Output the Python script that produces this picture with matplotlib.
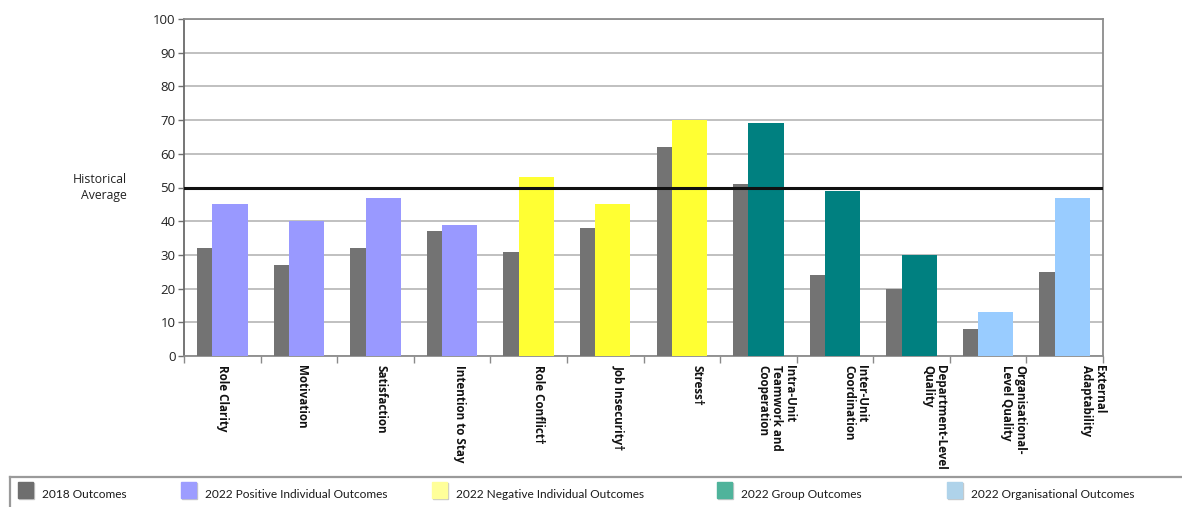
import matplotlib
matplotlib.use("Agg")
import matplotlib.pyplot as plt
from matplotlib.patches import Rectangle
from matplotlib.lines import Line2D
from matplotlib.transforms import blended_transform_factory

# Outcome categories (x axis)
categories = [
    "Role Clarity", "Motivation", "Satisfaction", "Intention to Stay",
    "Role Conflict\u2020", "Job Insecurity\u2020", "Stress\u2020",
    "Intra-Unit\nTeamwork and\nCooperation", "Inter-Unit\nCoordination",
    "Department-Level\nQuality", "Organisational-\nLevel Quality",
    "External\nAdaptability",
]
# Scores
outcomes_2018 = [32, 27, 32, 37, 31, 38, 62, 51, 24, 20, 8, 25]
outcomes_2022 = [45, 40, 47, 39, 53, 45, 70, 69, 49, 30, 13, 47]
# Outcome group of each 2022 bar
groups_2022 = ["pos", "pos", "pos", "pos", "neg", "neg", "neg",
               "grp", "grp", "grp", "org", "org"]
historical_average = 50
y_ticks = list(range(0, 101, 10))

legend_labels = ["2018 Outcomes", "2022 Positive Individual Outcomes",
                 "2022 Negative Individual Outcomes", "2022 Group Outcomes",
                 "2022 Organisational Outcomes"]

bar_colors = {"pos": "#9999ff", "neg": "#ffff33", "grp": "#008080", "org": "#99ccff"}
gray = "#737373"
legend_colors = ["#6e6e6e", "#9d9dff", "#ffff99", "#4fb39b", "#afd3ea"]

plt.rcParams["font.family"] = ["Open Sans", "DejaVu Sans"]

W, H = 1182, 507
fig = plt.figure(figsize=(W / 100, H / 100), dpi=100)
ax = fig.add_axes([184 / W, 1 - 356 / H, (1103 - 184) / W, (356 - 19) / H])

x = list(range(len(categories)))
ax.bar([i - 0.33 for i in x], outcomes_2018, width=0.2, align="edge",
       color=gray, zorder=3, linewidth=0)
ax.bar([i - 0.13 for i in x], outcomes_2022, width=0.46, align="edge",
       color=[bar_colors[g] for g in groups_2022], zorder=3, linewidth=0)

ax.set_xlim(-0.5, len(categories) - 0.5)
ax.set_ylim(0, 100)
ax.set_yticks(y_ticks)
ax.set_yticklabels([str(t) for t in y_ticks], fontsize=9.5, color="#222222")
ax.yaxis.grid(True, color="#b5b5b5", linewidth=1.2, zorder=0)
ax.set_axisbelow(True)

# category boundaries as tick marks, labels drawn separately
ax.set_xticks([i - 0.5 for i in range(len(categories) + 1)])
ax.set_xticklabels([])
ax.tick_params(axis="x", length=5, color="#8a8a8a", width=1)
ax.tick_params(axis="y", length=4, color="#707070", width=1, pad=2)

label_step = 1.033
for i, lab in enumerate(categories):
    ax.text(i * label_step, -2.6, lab, rotation=270, ha="center", va="top",
            fontsize=8.4, fontweight="bold", multialignment="left",
            linespacing=1.0, color="#111111", clip_on=False)

for side in ["top", "right", "bottom"]:
    ax.spines[side].set_color("#8c8c8c")
    ax.spines[side].set_linewidth(1.3)
ax.spines["left"].set_color("#6a6a6a")
ax.spines["left"].set_linewidth(1.3)

ax.axhline(historical_average, color="#111111", linewidth=2.2, zorder=4)
fig_x_data_y = blended_transform_factory(fig.transFigure, ax.transData)
ax.text(127 / W, historical_average, "Historical\nAverage", ha="right",
        va="center", fontsize=8.8, color="#222222", linespacing=1.25,
        transform=fig_x_data_y, clip_on=False)

# legend strip along the bottom
fig.add_artist(Line2D([10 / W, 1.0], [1 - 477 / H] * 2, color="#9a9a9a",
                      linewidth=1.6, transform=fig.transFigure))
fig.add_artist(Line2D([10 / W] * 2, [0, 1 - 477 / H], color="#9a9a9a",
                      linewidth=1.6, transform=fig.transFigure))
swatch_x = [18, 181, 432, 717, 947]
for sx, col, lab in zip(swatch_x, legend_colors, legend_labels):
    fig.add_artist(Rectangle(((sx + 1) / W, 1 - 499 / H), 15 / W, 16 / H,
                             color="#c8c8c8", transform=fig.transFigure))
    fig.add_artist(Rectangle((sx / W, 1 - 498 / H), 15 / W, 16 / H,
                             color=col, transform=fig.transFigure))
    fig.text((sx + 24) / W, 1 - 494 / H, lab, fontsize=8.6, va="center",
             ha="left", color="#1a1a1a", family=["Lato", "DejaVu Sans"])

fig.savefig("out.png", dpi=100)
